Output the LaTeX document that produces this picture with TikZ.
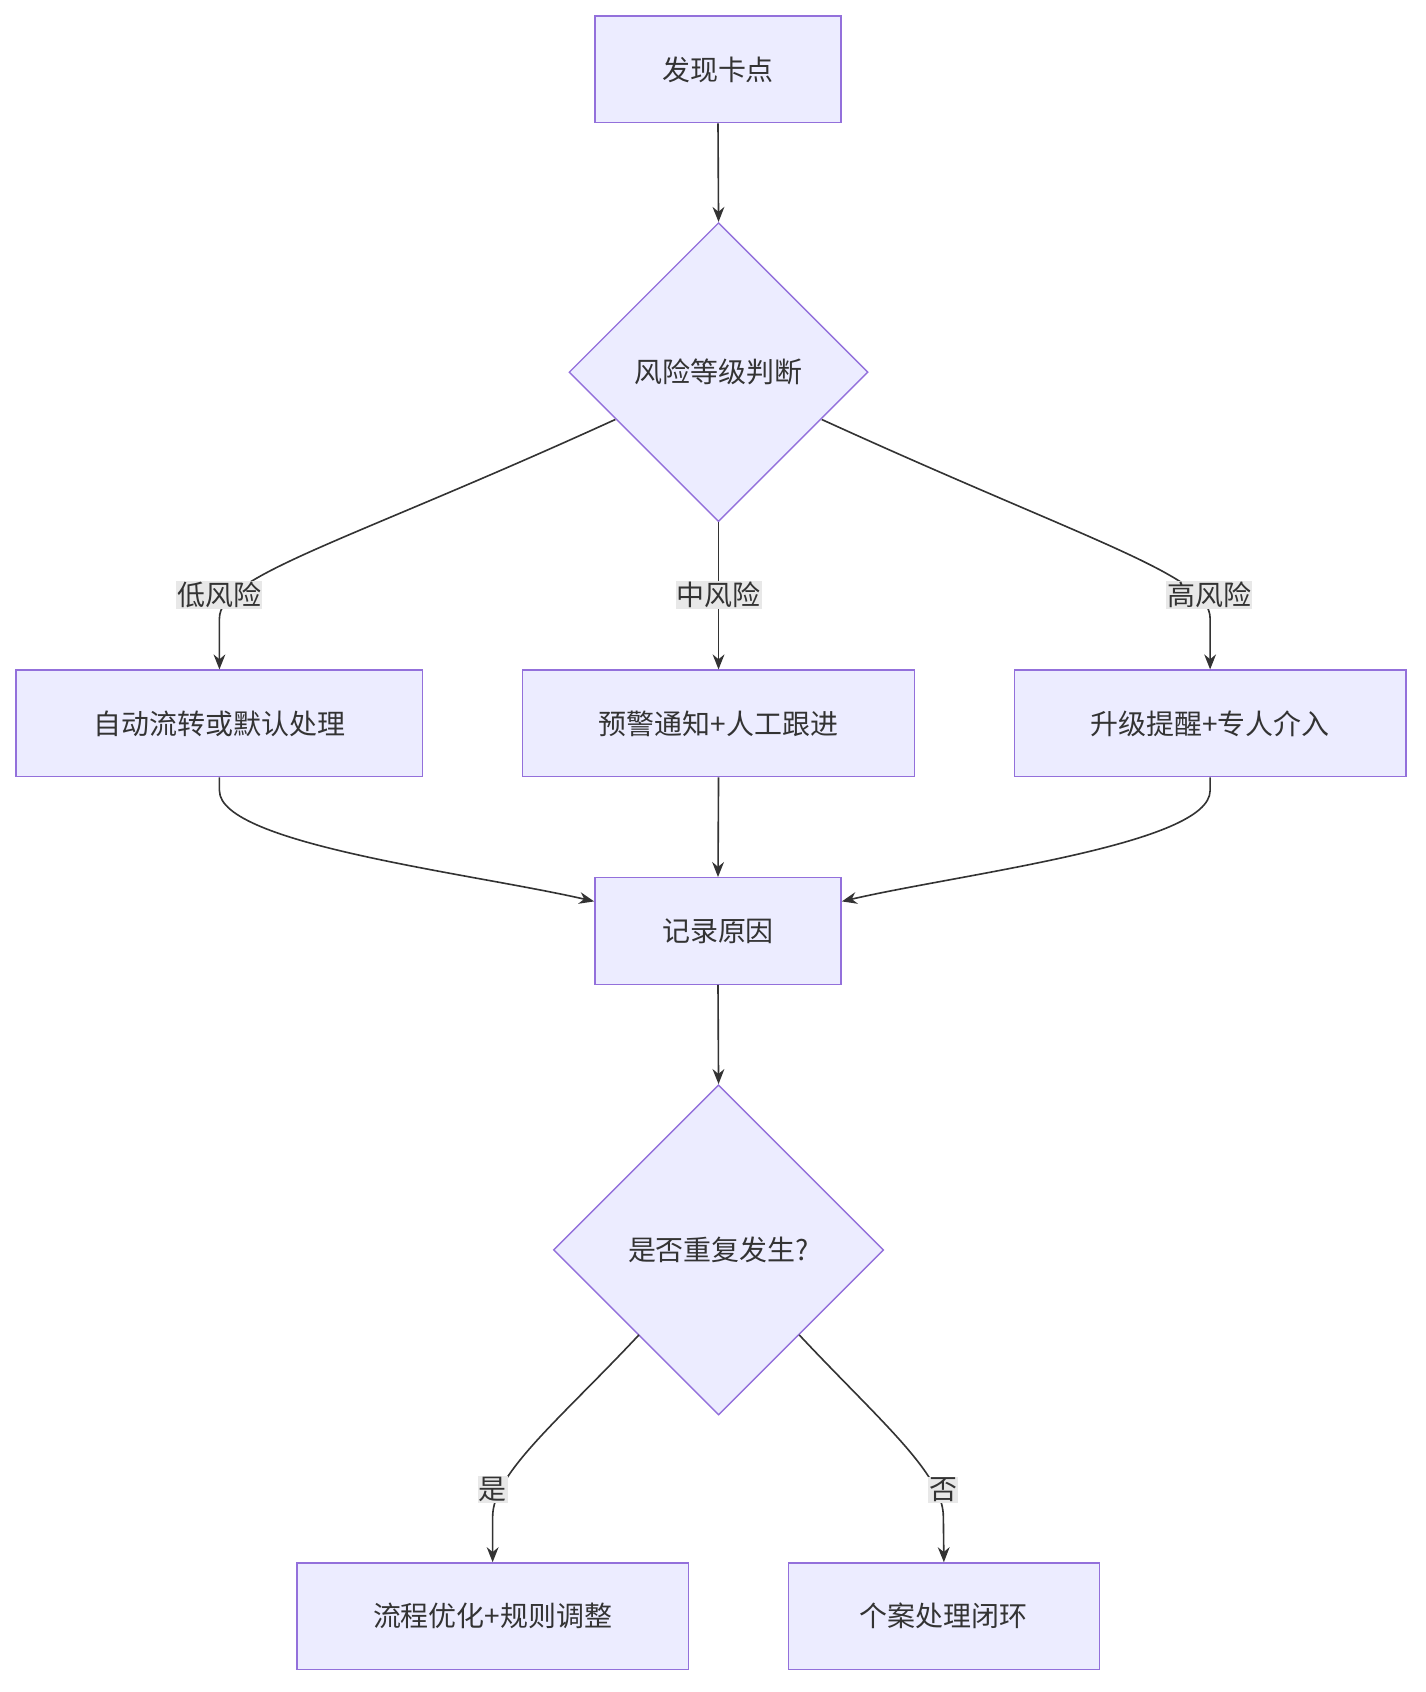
\documentclass[tikz,border=0pt]{standalone}
\usepackage{fontspec}
\setmainfont{Noto Sans CJK SC}
\usetikzlibrary{shapes.geometric,arrows.meta}
\definecolor{nfill}{HTML}{ECECFF}
\definecolor{nline}{HTML}{9370DB}
\definecolor{eline}{HTML}{333333}
\definecolor{lbg}{HTML}{E8E8E8}
\begin{document}
\begin{tikzpicture}[x=1pt,y=-1pt,
 box/.style={draw=nline,fill=nfill,line width=1.3pt,minimum height=99pt,inner sep=0pt,font=\fontsize{26}{30}\selectfont,text=eline},
 dia/.style={draw=nline,fill=nfill,line width=1.3pt,diamond,aspect=1,inner sep=0pt,font=\fontsize{26}{30}\selectfont,text=eline},
 lab/.style={fill=lbg,inner sep=1pt,font=\fontsize{26}{30}\selectfont,text=eline},
 e/.style={draw=eline,line width=1.5pt,-{Stealth[length=14pt,width=11pt]}}]
\useasboundingbox (0,0) rectangle (1325,1573);
\node[box,minimum width=229pt] (a) at (667.5,64.5) {发现卡点};
\node[dia,minimum width=278pt,minimum height=278pt] (b) at (668,346) {风险等级判断};
\node[box,minimum width=378pt] (c1) at (204,672.5) {自动流转或默认处理};
\node[box,minimum width=364pt] (c2) at (668,672.5) {预警通知+人工跟进};
\node[box,minimum width=364pt] (c3) at (1125,672.5) {升级提醒+专人介入};
\node[box,minimum width=229pt] (d) at (667.5,865.5) {记录原因};
\node[dia,minimum width=307pt,minimum height=307pt] (f) at (668,1162) {是否重复发生?};
\node[box,minimum width=364pt] (g1) at (458,1502.5) {流程优化+规则调整};
\node[box,minimum width=289pt] (g2) at (877.5,1502.5) {个案处理闭环};
\draw[e] (a.south) -- (b.north);
\draw[e] (572,390) .. controls (320,505) and (204,535) .. (204,575) -- (c1.north);
\draw[e] (b.south) -- (c2.north);
\draw[e] (764,390) .. controls (1016,505) and (1125,535) .. (1125,575) -- (c3.north);
\node[lab] (l1) at (204,553) {低风险};
\node[lab] (l2) at (668,553) {中风险};
\node[lab] (l3) at (1124,553) {高风险};
\draw[e] (c1.south) -- (204,735) .. controls (204,785) and (440,812) .. (d.west|-0,838);
\draw[e] (c2.south) -- (d.north);
\draw[e] (c3.south) -- (1125,735) .. controls (1125,785) and (895,812) .. (d.east|-0,838);
\draw[e] (d.south) -- (f.north);
\draw[e] (594,1241) .. controls (520,1320) and (458,1370) .. (458,1410) -- (g1.north);
\draw[e] (743,1241) .. controls (817,1320) and (877,1370) .. (877,1410) -- (g2.north);
\node[lab] (l4) at (458,1385) {是};
\node[lab] (l5) at (877,1385) {否};
\end{tikzpicture}
\end{document}
